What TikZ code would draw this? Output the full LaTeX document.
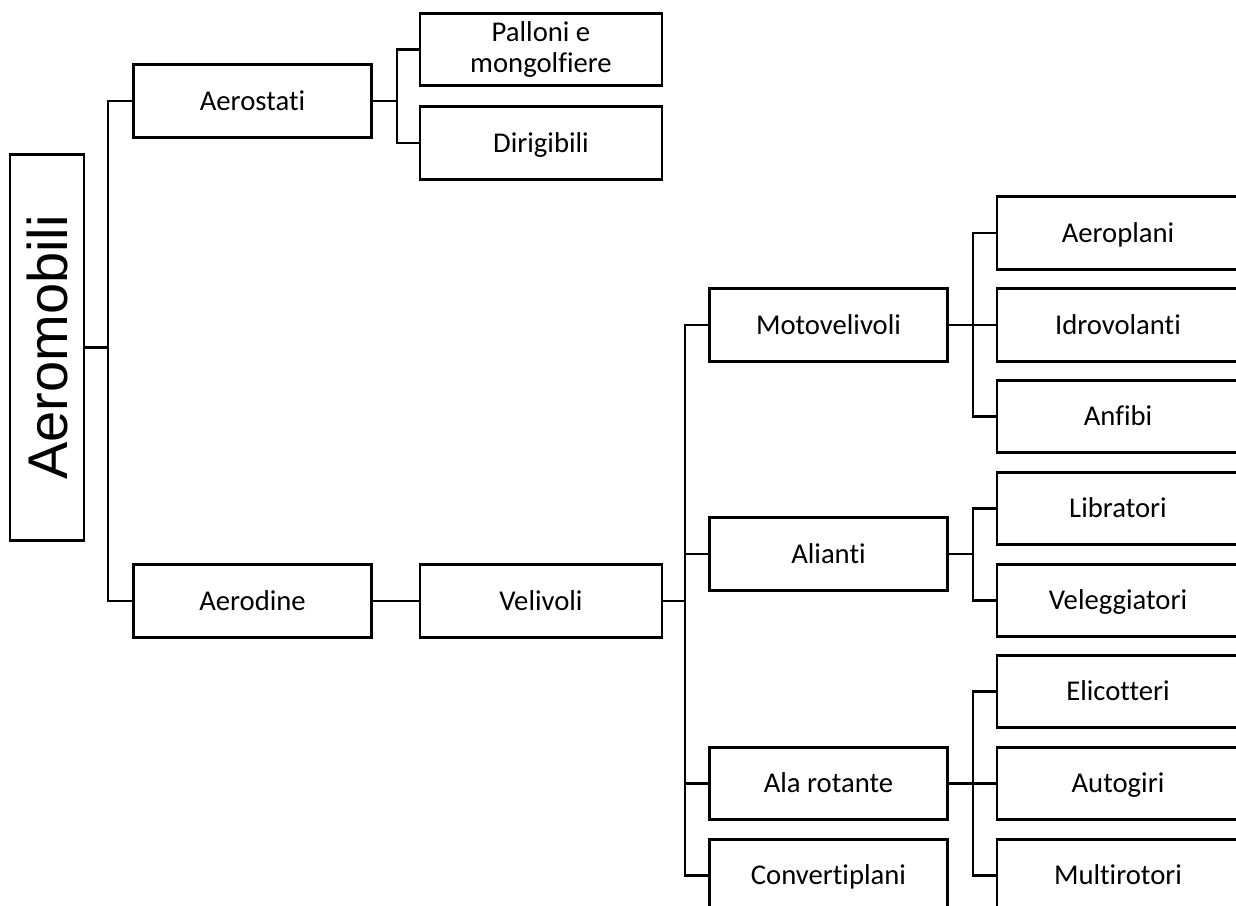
\documentclass[tikz,border=0pt]{standalone}
\usepackage{fontspec}
\setmainfont{Carlito}[Ligatures=NoCommon]
\newfontfamily\titlefont{Liberation Sans}
\begin{document}
\begin{tikzpicture}[x=0.75pt,y=-0.75pt,
  boxbase/.style={draw=black,line width=2.1pt,fill=white,inner sep=0pt,
    minimum height=54.5pt,align=center,font=\fontsize{21.5}{25}\selectfont},
  box/.style={boxbase,text height=16.5pt,text depth=2.7pt},
  boxA/.style={box,minimum width=179pt},
  boxB/.style={box,minimum width=181.5pt},
  link/.style={draw=black,line width=2.1pt}]
\useasboundingbox (0,0) rectangle (1236,906);
% root
\node[draw=black,line width=2.1pt,inner sep=0pt,minimum width=55.5pt,minimum height=289pt] (root) at (47,347.5) {};
\node[rotate=90,font=\titlefont\fontsize{42}{46}\selectfont] (roottext) at (root.center) {Aeromobili};
% level 1
\node[boxA] (aerostati) at (252.5,101) {Aerostati};
\node[boxA] (aerodine) at (252.5,601) {Aerodine};
% level 2
\node[boxbase,minimum width=181.5pt,font=\fontsize{21.5}{23.5}\selectfont] (palloni) at (541,49.5) {Palloni e\\mongolfiere};
\node[boxB] (dirigibili) at (541,143) {Dirigibili};
\node[boxB] (velivoli) at (541,601) {Velivoli};
% level 3
\node[boxA] (moto) at (828.5,325) {Motovelivoli};
\node[boxA] (alianti) at (828.5,554) {Alianti};
\node[boxA] (ala) at (828.5,783.5) {Ala rotante};
\node[boxA] (conv) at (828.5,875.5) {Convertiplani};
% level 4
\node[boxB] (aeroplani) at (1118,233) {Aeroplani};
\node[boxB] (idro) at (1118,325) {Idrovolanti};
\node[boxB] (anfibi) at (1118,416.5) {Anfibi};
\node[boxB] (libratori) at (1118,508.5) {Libratori};
\node[boxB] (veleggiatori) at (1118,600.5) {Veleggiatori};
\node[boxB] (elicotteri) at (1118,691.5) {Elicotteri};
\node[boxB] (autogiri) at (1118,783.5) {Autogiri};
\node[boxB] (multirotori) at (1118,875.5) {Multirotori};
% bus coordinates
\coordinate (b1) at (108,0);
\coordinate (b2) at (397,0);
\coordinate (b3) at (685,0);
\coordinate (b4) at (973,0);
% connectors
\draw[link] (root.east) -- (root.east -| b1);
\draw[link] (root.east -| b1) |- (aerostati.west);
\draw[link] (root.east -| b1) |- (aerodine.west);
\draw[link] (aerostati.east) -- (aerostati.east -| b2);
\draw[link] (aerostati.east -| b2) |- (palloni.west);
\draw[link] (aerostati.east -| b2) |- (dirigibili.west);
\draw[link] (aerodine.east) -- (velivoli.west);
\draw[link] (velivoli.east) -- (velivoli.east -| b3);
\draw[link] (velivoli.east -| b3) |- (moto.west);
\draw[link] (velivoli.east -| b3) |- (alianti.west);
\draw[link] (velivoli.east -| b3) |- (ala.west);
\draw[link] (velivoli.east -| b3) |- (conv.west);
\draw[link] (moto.east) -- (moto.east -| b4);
\draw[link] (moto.east -| b4) |- (aeroplani.west);
\draw[link] (moto.east -| b4) |- (idro.west);
\draw[link] (moto.east -| b4) |- (anfibi.west);
\draw[link] (alianti.east) -- (alianti.east -| b4);
\draw[link] (alianti.east -| b4) |- (libratori.west);
\draw[link] (alianti.east -| b4) |- (veleggiatori.west);
\draw[link] (ala.east) -- (ala.east -| b4);
\draw[link] (ala.east -| b4) |- (elicotteri.west);
\draw[link] (ala.east -| b4) |- (autogiri.west);
\draw[link] (ala.east -| b4) |- (multirotori.west);
\end{tikzpicture}
\end{document}
